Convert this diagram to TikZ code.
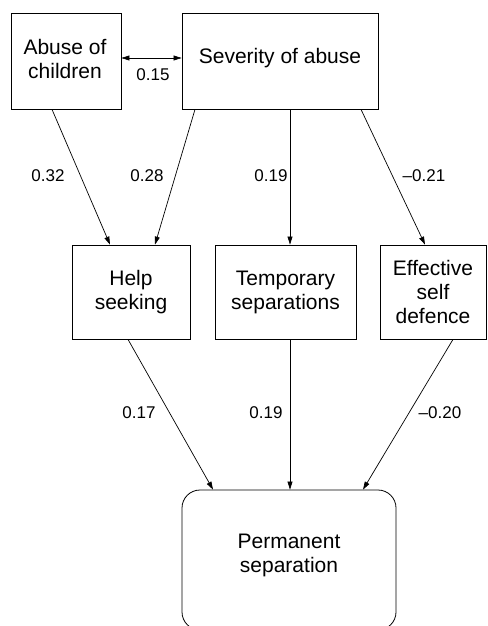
\documentclass[tikz,border=0pt]{standalone}
\usepackage{fontspec}
\setmainfont{Liberation Sans}
\usetikzlibrary{arrows.meta}
\begin{document}
\begin{tikzpicture}[x=1pt,y=-1pt,
  box/.style={draw, line width=0.8pt, align=center, inner sep=0pt,
    font=\fontsize{21}{24}\selectfont},
  boxtext/.style={align=center, inner sep=0pt, font=\fontsize{21}{24}\selectfont},
  lbl/.style={font=\fontsize{17}{20}\selectfont, inner sep=0pt},
  conn/.style={line width=0.7pt, -{Triangle[length=8pt,width=5pt]}},
  dconn/.style={line width=0.7pt, {Triangle[length=8pt,width=5pt]}-{Triangle[length=8pt,width=5pt]}},
]
\useasboundingbox (0,0) rectangle (487,626);
\clip (0,0) rectangle (487,626);

\node[box, minimum width=110pt, minimum height=96pt] (abuse) at (66,61) {};
\node[boxtext] (abusetext) at (65,59) {Abuse of\\children};
\node[box, minimum width=196pt, minimum height=96pt] (sev) at (280,61) {};
\node[boxtext] (sevtext) at (280,58) {Severity of abuse};

\node[box, minimum width=118pt, minimum height=94pt] (help) at (131,292) {Help\\seeking};
\node[box, minimum width=141pt, minimum height=94pt] (temp) at (285.5,292) {Temporary\\separations};
\node[box, minimum width=106pt, minimum height=94pt] (eff) at (433,292) {Effective\\self\\defence};

\node[box, rounded corners=18pt, minimum width=214pt, minimum height=140pt] (perm) at (289,560) {};
\node[boxtext] (permtext) at (289,555) {Permanent\\separation};

\draw[dconn] ([yshift=3pt]abuse.east) -- ([yshift=3pt]sev.west);
\node[lbl] (l015) at (153,75) {0.15};

\draw[conn] ([xshift=-14pt]abuse.south) -- ([xshift=-21pt]help.north);
\draw[conn] ([xshift=-85pt]sev.south) -- ([xshift=24pt]help.north);
\draw[conn] ([xshift=10pt]sev.south) -- ([xshift=4.5pt]temp.north);
\draw[conn] ([xshift=81pt]sev.south) -- ([xshift=-8pt]eff.north);

\node[lbl] (l032) at (48,176) {0.32};
\node[lbl] (l028) at (147,176) {0.28};
\node[lbl] (l019a) at (271,176) {0.19};
\node[lbl] (l021) at (424,176) {–0.21};

\draw[conn] ([xshift=-3pt]help.south) -- ([xshift=-76pt]perm.north);
\draw[conn] ([xshift=4.5pt]temp.south) -- ([xshift=1pt]perm.north);
\draw[conn] ([xshift=20pt]eff.south) -- ([xshift=74pt]perm.north);

\node[lbl] (l017) at (139,413) {0.17};
\node[lbl] (l019b) at (266,413) {0.19};
\node[lbl] (l020) at (440,413) {–0.20};
\end{tikzpicture}
\end{document}
